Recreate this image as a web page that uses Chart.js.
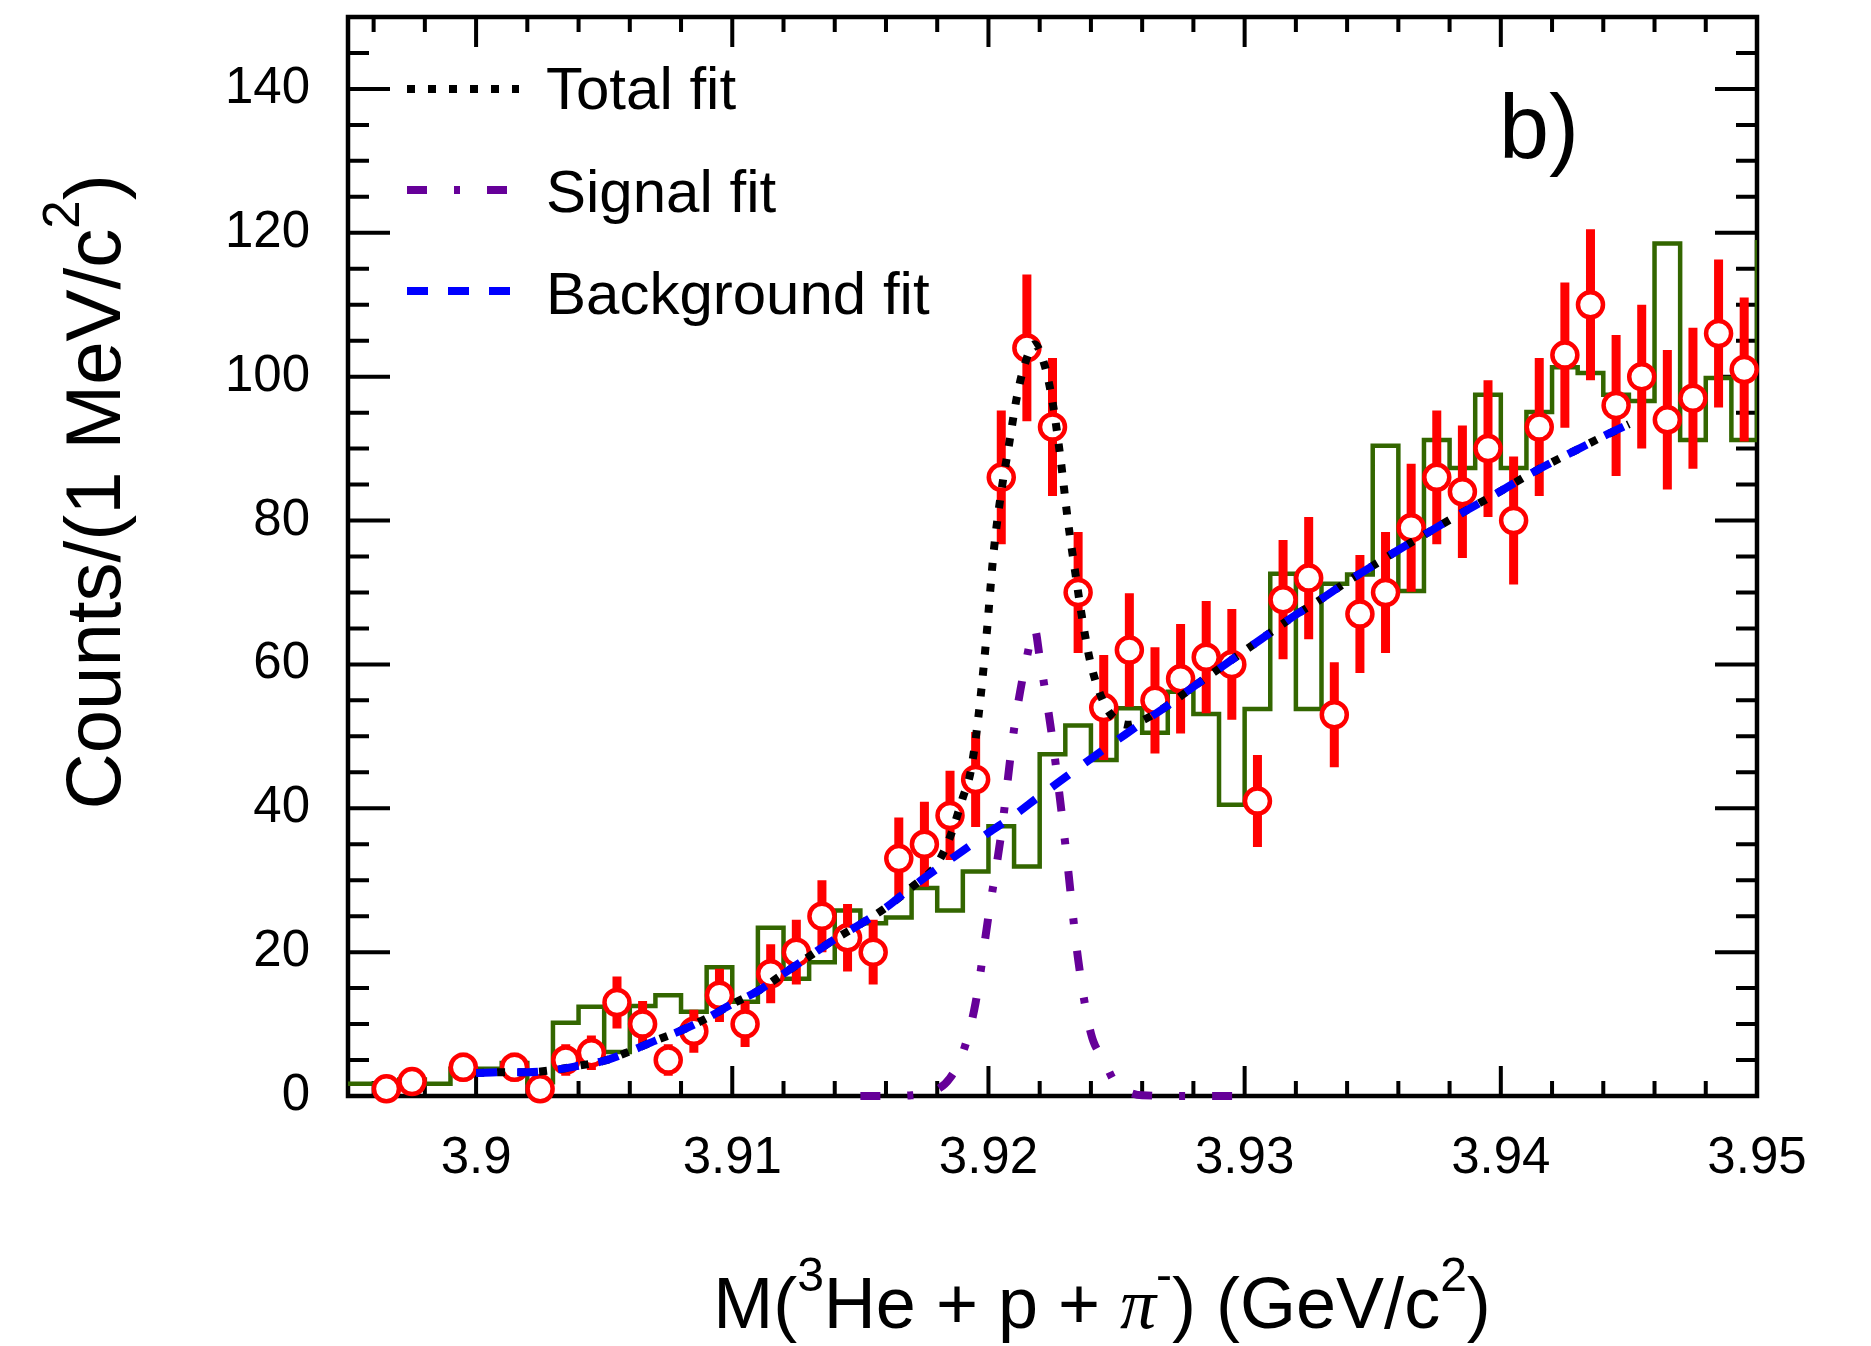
<!DOCTYPE html>
<html lang="en">
<head>
<meta charset="UTF-8">
<title>M(3He + p + pi-) invariant mass</title>
<script src="https://cdn.jsdelivr.net/npm/chart.js"></script>
<style>
  html, body { margin: 0; padding: 0; background: #fff; }
  #chart { display: block; }
</style>
</head>
<body>
<canvas id="chart" width="1871" height="1346"></canvas>
<script>
// green histogram: lower bin edges (1 MeV bins), last entry is the step at the right edge
const histEdges = [3.895, 3.896, 3.897, 3.898, 3.899, 3.900, 3.901, 3.902, 3.903, 3.904,
                   3.905, 3.906, 3.907, 3.908, 3.909, 3.910, 3.911, 3.912, 3.913, 3.914,
                   3.915, 3.916, 3.917, 3.918, 3.919, 3.920, 3.921, 3.922, 3.923, 3.924,
                   3.925, 3.926, 3.927, 3.928, 3.929, 3.930, 3.931, 3.932, 3.933, 3.934,
                   3.935, 3.936, 3.937, 3.938, 3.939, 3.940, 3.941, 3.942, 3.943, 3.944,
                   3.945, 3.946, 3.947, 3.948, 3.949, 3.950];
const histCounts = [1.7, 1.7, 2.3, 1.7, 3.8, 3.8, 4.6, 1.9, 10.2, 12.4,
                    6.1, 12.5, 14.0, 11.7, 17.9, 13.1, 23.4, 16.3, 18.6, 25.8,
                    24.0, 24.8, 28.9, 25.8, 31.2, 37.5, 31.9, 47.5, 51.5, 46.7,
                    53.9, 50.5, 56.2, 53.1, 40.5, 53.8, 72.6, 53.8, 71.2, 72.5,
                    90.4, 70.2, 91.2, 87.3, 97.5, 87.3, 95.1, 101.3, 100.5, 97.5,
                    96.6, 118.5, 91.2, 99.8, 91.2, 119];

// red data points
const dataMass = [3.8965, 3.8975, 3.8995, 3.9015, 3.9025, 3.9035, 3.9045, 3.9055, 3.9065, 3.9075,
                  3.9085, 3.9095, 3.9105, 3.9115, 3.9125, 3.9135, 3.9145, 3.9155, 3.9165, 3.9175,
                  3.9185, 3.9195, 3.9205, 3.9215, 3.9225, 3.9235, 3.9245, 3.9255, 3.9265, 3.9275,
                  3.9285, 3.9295, 3.9305, 3.9315, 3.9325, 3.9335, 3.9345, 3.9355, 3.9365, 3.9375,
                  3.9385, 3.9395, 3.9405, 3.9415, 3.9425, 3.9435, 3.9445, 3.9455, 3.9465, 3.9475,
                  3.9485, 3.9495];
const dataCounts = [1, 2, 4, 4, 1, 5, 6, 13, 10, 5,
                    9, 14, 10, 17, 20, 25, 22, 20, 33, 35,
                    39, 44, 86, 104, 93, 70, 54, 62, 55, 58,
                    61, 60, 41, 69, 72, 53, 67, 70, 79, 86,
                    84, 90, 80, 93, 103, 110, 96, 100, 94, 97,
                    106, 101];
const dataErrors = [1.0, 1.4, 2.0, 2.0, 1.0, 2.2, 2.4, 3.6, 3.2, 2.2,
                    3.0, 3.7, 3.2, 4.1, 4.5, 5.0, 4.7, 4.5, 5.7, 5.9,
                    6.2, 6.6, 9.3, 10.2, 9.6, 8.4, 7.3, 7.9, 7.4, 7.6,
                    7.8, 7.7, 6.4, 8.3, 8.5, 7.3, 8.2, 8.4, 8.9, 9.3,
                    9.2, 9.5, 8.9, 9.6, 10.1, 10.5, 9.8, 10.0, 9.7, 9.8,
                    10.3, 10.0];

// background fit (blue dashed)
const bgMass = [3.900, 3.901, 3.902, 3.903, 3.904, 3.905, 3.906, 3.907, 3.908, 3.909,
                3.910, 3.911, 3.912, 3.913, 3.914, 3.915, 3.916, 3.917, 3.918, 3.919,
                3.920, 3.921, 3.922, 3.923, 3.924, 3.925, 3.926, 3.927, 3.928, 3.929,
                3.930, 3.931, 3.932, 3.933, 3.934, 3.935, 3.936, 3.937, 3.938, 3.939,
                3.940, 3.941, 3.942, 3.943, 3.944, 3.945];
const bgFit = [3.2, 3.3, 3.3, 3.6, 4.2, 4.9, 6.2, 7.7, 9.1, 10.8,
               12.8, 14.6, 17.0, 19.4, 21.8, 23.9, 26.2, 29.0, 31.6, 34.1,
               36.6, 39.0, 41.7, 44.3, 46.9, 49.4, 51.9, 54.3, 56.9, 59.4,
               61.9, 64.4, 66.9, 69.1, 71.5, 73.7, 75.9, 78.0, 80.1, 82.1,
               84.1, 86.2, 88.1, 89.9, 91.7, 93.4];

// total fit (black dotted)
const totalMass = [3.900, 3.901, 3.902, 3.903, 3.904, 3.905, 3.906, 3.907, 3.908, 3.909,
                   3.910, 3.911, 3.912, 3.913, 3.914, 3.915, 3.916, 3.917, 3.918, 3.9185,
                   3.919, 3.9193, 3.9196, 3.9199, 3.9202, 3.9205, 3.9208, 3.9211, 3.9214, 3.9218,
                   3.9222, 3.9225, 3.9228, 3.9231, 3.9234, 3.9237, 3.924, 3.9245, 3.925, 3.9255,
                   3.926, 3.927, 3.928, 3.929, 3.930, 3.931, 3.932, 3.933, 3.934, 3.935,
                   3.936, 3.937, 3.938, 3.939, 3.940, 3.941, 3.942, 3.943, 3.944, 3.945];
const totalFit = [3.2, 3.3, 3.3, 3.6, 4.2, 4.9, 6.2, 7.7, 9.1, 10.8,
                  12.8, 14.6, 17.0, 19.4, 21.8, 23.9, 26.2, 29.0, 32.3, 36.0,
                  41.5, 45.0, 52.5, 63.0, 75.5, 84.0, 90.5, 97.0, 101.5, 104.5,
                  101.5, 96.5, 89.0, 80.0, 72.5, 65.5, 60.0, 54.7, 52.2, 51.6,
                  52.2, 54.3, 56.9, 59.4, 61.9, 64.4, 66.9, 69.1, 71.5, 73.7,
                  75.9, 78.0, 80.1, 82.1, 84.1, 86.2, 88.1, 89.9, 91.7, 93.4];

// signal fit (purple dash-dot)
const signalMass = [3.915, 3.916, 3.917, 3.918, 3.9185, 3.919, 3.9195, 3.920, 3.9205, 3.921,
                    3.9215, 3.9218, 3.922, 3.9225, 3.923, 3.9235, 3.924, 3.9245, 3.925, 3.9255,
                    3.926, 3.928, 3.930];
const signalFit = [0, 0, 0.1, 0.9, 2.5, 6, 13, 25, 36.5, 51,
                   61, 65, 61, 49.5, 35, 19, 8.7, 5, 1.5, 0.5,
                   0.1, 0, 0];

const xTicks = [3.9, 3.91, 3.92, 3.93, 3.94, 3.95];
const yTicks = [0, 20, 40, 60, 80, 100, 120, 140];

const FONT = "'Liberation Sans', Arial, Helvetica, sans-serif";

function toPoints(xs, ys) {
    return xs.map((x, i) => ({ x: x, y: ys[i] }));
}

// frame with inward ticks on all four sides (ROOT style)
const framePlugin = {
    id: 'frame',
    beforeDatasetsDraw(chart) {
        const { ctx, chartArea: a, scales: { x, y } } = chart;
        ctx.save();
        ctx.strokeStyle = '#000';
        ctx.lineCap = 'butt';
        ctx.lineWidth = 4;
        ctx.beginPath();
        for (let k = 0; k <= 27; k++) {
            const px = x.getPixelForValue(3.896 + k * 0.002);
            const len = (k % 5 === 2) ? 30 : 15;
            ctx.moveTo(px, a.bottom); ctx.lineTo(px, a.bottom - len);
            ctx.moveTo(px, a.top); ctx.lineTo(px, a.top + len);
        }
        for (let k = 0; k <= 30; k++) {
            const py = y.getPixelForValue(k * 5);
            const len = (k % 4 === 0) ? 42 : 21;
            ctx.moveTo(a.left, py); ctx.lineTo(a.left + len, py);
            ctx.moveTo(a.right, py); ctx.lineTo(a.right - len, py);
        }
        ctx.stroke();
        ctx.lineWidth = 4.5;
        ctx.strokeRect(a.left, a.top, a.right - a.left, a.bottom - a.top);
        ctx.restore();
    }
};

// vertical error bars under the open circles
const errorBarPlugin = {
    id: 'errorBars',
    beforeDatasetDraw(chart, args) {
        const ds = chart.data.datasets[args.index];
        if (!ds.errors) return;
        const { ctx, scales: { x, y } } = chart;
        ctx.save();
        ctx.strokeStyle = '#ff0000';
        ctx.lineWidth = 9;
        ctx.lineCap = 'butt';
        ctx.beginPath();
        ds.data.forEach((p, i) => {
            const px = x.getPixelForValue(p.x);
            ctx.moveTo(px, y.getPixelForValue(p.y - ds.errors[i]));
            ctx.lineTo(px, y.getPixelForValue(p.y + ds.errors[i]));
        });
        ctx.stroke();
        ctx.restore();
    }
};

// text pieces with superscripts
function drawRich(ctx, parts, size) {
    const supSize = Math.round(size * 0.66);
    let w = 0;
    parts.forEach(p => {
        ctx.font = (p.italic ? 'italic ' : '') + (p.sup ? supSize : size) + 'px ' + (p.font || FONT);
        p.w = ctx.measureText(p.t).width;
        w += p.w;
    });
    let cx = -w / 2;
    parts.forEach(p => {
        ctx.font = (p.italic ? 'italic ' : '') + (p.sup ? supSize : size) + 'px ' + (p.font || FONT);
        ctx.fillText(p.t, cx, p.sup ? -size * 0.52 : 0);
        cx += p.w;
    });
}

const textPlugin = {
    id: 'texts',
    afterDraw(chart) {
        const ctx = chart.ctx;
        ctx.save();
        ctx.fillStyle = '#000';
        ctx.textBaseline = 'alphabetic';
        ctx.textAlign = 'left';

        // x axis title
        ctx.save();
        ctx.translate(1102, 1328);
        drawRich(ctx, [
            { t: 'M(' }, { t: '3', sup: true }, { t: 'He + p + ' },
            { t: 'π', italic: true, font: "'Liberation Serif', serif" }, { t: '-', sup: true },
            { t: ') (GeV/c' }, { t: '2', sup: true }, { t: ')' }
        ], 72);
        ctx.restore();

        // y axis title
        ctx.save();
        ctx.translate(120, 492);
        ctx.rotate(-Math.PI / 2);
        drawRich(ctx, [{ t: 'Counts/(1 MeV/c' }, { t: '2', sup: true }, { t: ')' }], 78);
        ctx.restore();

        // panel label
        ctx.font = '90px ' + FONT;
        ctx.fillText('b)', 1499, 158);

        // legend
        const legend = [
            { text: 'Total fit', color: '#000000', dash: [8, 13], y: 89, base: 109 },
            { text: 'Signal fit', color: '#660099', dash: [20, 27, 6, 27], y: 190, base: 212 },
            { text: 'Background fit', color: '#0000ff', dash: [21, 20], y: 291, base: 314 }
        ];
        ctx.font = '60px ' + FONT;
        legend.forEach(item => {
            ctx.save();
            ctx.strokeStyle = item.color;
            ctx.lineWidth = 8;
            ctx.setLineDash(item.dash);
            ctx.beginPath();
            ctx.moveTo(407, item.y);
            ctx.lineTo(519, item.y);
            ctx.stroke();
            ctx.restore();
            ctx.fillText(item.text, 546, item.base);
        });
        ctx.restore();
    }
};

const fitStyle = { showLine: true, pointRadius: 0, borderWidth: 8, fill: false, cubicInterpolationMode: 'monotone', clip: 12 };

new Chart(document.getElementById('chart'), {
    type: 'scatter',
    data: {
        datasets: [
            Object.assign({ label: 'Signal fit', data: toPoints(signalMass, signalFit),
                borderColor: '#660099', borderDash: [20, 27, 6, 27], order: 0 }, fitStyle),
            Object.assign({ label: 'Background fit', data: toPoints(bgMass, bgFit),
                borderColor: '#0000ff', borderDash: [21, 20], order: 1 }, fitStyle),
            Object.assign({ label: 'Total fit', data: toPoints(totalMass, totalFit),
                borderColor: '#000000', borderDash: [8, 13], order: 2 }, fitStyle),
            {
                label: 'Data', data: toPoints(dataMass, dataCounts), errors: dataErrors,
                pointRadius: 12.5, pointBorderWidth: 4.5, pointBorderColor: '#ff0000',
                pointBackgroundColor: '#ffffff', showLine: false, order: 3, clip: 30
            },
            {
                label: 'Histogram', data: toPoints(histEdges, histCounts), showLine: true,
                stepped: true, borderColor: '#336600', borderWidth: 4.5, pointRadius: 0,
                fill: false, order: 4
            }
        ]
    },
    options: {
        responsive: false,
        animation: false,
        devicePixelRatio: 1,
        events: [],
        layout: { padding: { left: 0, top: 14, right: 114, bottom: 0 } },
        plugins: { legend: { display: false }, tooltip: { enabled: false } },
        scales: {
            x: {
                type: 'linear', min: 3.895, max: 3.95,
                grid: { display: false, drawTicks: false },
                border: { display: false },
                afterBuildTicks: axis => { axis.ticks = xTicks.map(v => ({ value: v })); },
                afterFit: axis => { axis.height = 1346 - 1096; axis.paddingLeft = 0; axis.paddingRight = 0; },
                ticks: {
                    color: '#000', padding: 32, maxRotation: 0, autoSkip: false,
                    font: { family: FONT, size: 51 },
                    callback: v => String(v)
                }
            },
            y: {
                type: 'linear', min: 0, max: 150,
                grid: { display: false, drawTicks: false },
                border: { display: false },
                afterBuildTicks: axis => { axis.ticks = yTicks.map(v => ({ value: v })); },
                afterFit: axis => { axis.width = 348; axis.paddingTop = 0; axis.paddingBottom = 0; },
                ticks: {
                    color: '#000', padding: 38, autoSkip: false,
                    font: { family: FONT, size: 51 },
                    callback: v => String(v)
                }
            }
        }
    },
    plugins: [framePlugin, errorBarPlugin, textPlugin]
});
</script>
</body>
</html>
